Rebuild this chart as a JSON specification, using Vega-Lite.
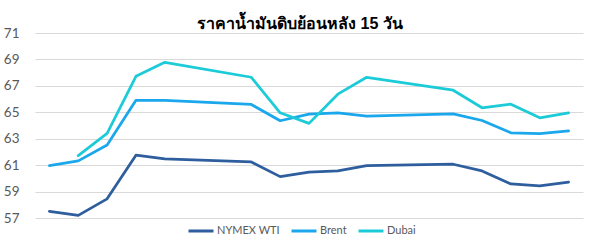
{
  "$schema": "https://vega.github.io/schema/vega-lite/v6.json",
  "autosize": "none",
  "width": 548,
  "height": 185,
  "padding": {"left": 35, "top": 33, "right": 17, "bottom": 32},
  "background": "white",
  "title": {
    "text": "ราคาน้ำมันดิบย้อนหลัง 15 วัน",
    "fontSize": 16,
    "fontWeight": "bold",
    "color": "#000000",
    "baseline": "alphabetic",
    "offset": 4,
    "dx": -9,
    "dy": 23,
    "anchor": "middle"
  },
  "data": {
    "values": [
      {"day": 0, "series": "NYMEX WTI", "price": 57.50},
      {"day": 1, "series": "NYMEX WTI", "price": 57.20},
      {"day": 2, "series": "NYMEX WTI", "price": 58.45},
      {"day": 3, "series": "NYMEX WTI", "price": 61.75},
      {"day": 4, "series": "NYMEX WTI", "price": 61.47},
      {"day": 7, "series": "NYMEX WTI", "price": 61.24},
      {"day": 8, "series": "NYMEX WTI", "price": 60.13},
      {"day": 9, "series": "NYMEX WTI", "price": 60.47},
      {"day": 10, "series": "NYMEX WTI", "price": 60.56},
      {"day": 11, "series": "NYMEX WTI", "price": 60.97},
      {"day": 14, "series": "NYMEX WTI", "price": 61.07},
      {"day": 15, "series": "NYMEX WTI", "price": 60.56},
      {"day": 16, "series": "NYMEX WTI", "price": 59.58},
      {"day": 17, "series": "NYMEX WTI", "price": 59.43},
      {"day": 18, "series": "NYMEX WTI", "price": 59.71},
      {"day": 0, "series": "Brent", "price": 60.97},
      {"day": 1, "series": "Brent", "price": 61.32},
      {"day": 2, "series": "Brent", "price": 62.52},
      {"day": 3, "series": "Brent", "price": 65.91},
      {"day": 4, "series": "Brent", "price": 65.91},
      {"day": 7, "series": "Brent", "price": 65.59},
      {"day": 8, "series": "Brent", "price": 64.36},
      {"day": 9, "series": "Brent", "price": 64.86},
      {"day": 10, "series": "Brent", "price": 64.96},
      {"day": 11, "series": "Brent", "price": 64.71},
      {"day": 14, "series": "Brent", "price": 64.88},
      {"day": 15, "series": "Brent", "price": 64.38},
      {"day": 16, "series": "Brent", "price": 63.45},
      {"day": 17, "series": "Brent", "price": 63.38},
      {"day": 18, "series": "Brent", "price": 63.60},
      {"day": 1, "series": "Dubai", "price": 61.72},
      {"day": 2, "series": "Dubai", "price": 63.40},
      {"day": 3, "series": "Dubai", "price": 67.72},
      {"day": 4, "series": "Dubai", "price": 68.78},
      {"day": 7, "series": "Dubai", "price": 67.65},
      {"day": 8, "series": "Dubai", "price": 64.96},
      {"day": 9, "series": "Dubai", "price": 64.16},
      {"day": 10, "series": "Dubai", "price": 66.37},
      {"day": 11, "series": "Dubai", "price": 67.65},
      {"day": 14, "series": "Dubai", "price": 66.67},
      {"day": 15, "series": "Dubai", "price": 65.34},
      {"day": 16, "series": "Dubai", "price": 65.61},
      {"day": 17, "series": "Dubai", "price": 64.58},
      {"day": 18, "series": "Dubai", "price": 64.96}
    ]
  },
  "mark": {"type": "line", "strokeWidth": 2.75, "strokeJoin": "round", "strokeCap": "round"},
  "encoding": {
    "x": {
      "field": "day",
      "type": "quantitative",
      "scale": {"domain": [-0.5, 18.5], "nice": false, "zero": false},
      "axis": null
    },
    "y": {
      "field": "price",
      "type": "quantitative",
      "scale": {"domain": [57, 71], "nice": false, "zero": false},
      "axis": {
        "values": [57, 59, 61, 63, 65, 67, 69, 71],
        "title": null,
        "ticks": false,
        "domain": false,
        "labelPadding": 16,
        "labelFont": "Lato",
        "labelFontSize": 13.5,
        "labelColor": "#595959",
        "gridColor": "#d9d9d9",
        "gridWidth": 1
      }
    },
    "color": {
      "field": "series",
      "type": "nominal",
      "scale": {
        "domain": ["NYMEX WTI", "Brent", "Dubai"],
        "range": ["#2e5e9e", "#1aa7ec", "#1ccbd8"]
      },
      "legend": {
        "title": null,
        "orient": "none",
        "direction": "horizontal",
        "legendX": 152,
        "legendY": 184,
        "symbolType": "stroke",
        "symbolSize": 625,
        "symbolStrokeWidth": 3,
        "labelFont": "Lato",
        "labelFontSize": 11,
        "labelColor": "#595959",
        "labelOffset": 2,
        "columnPadding": 5
      }
    }
  },
  "config": {"view": {"stroke": null}}
}
